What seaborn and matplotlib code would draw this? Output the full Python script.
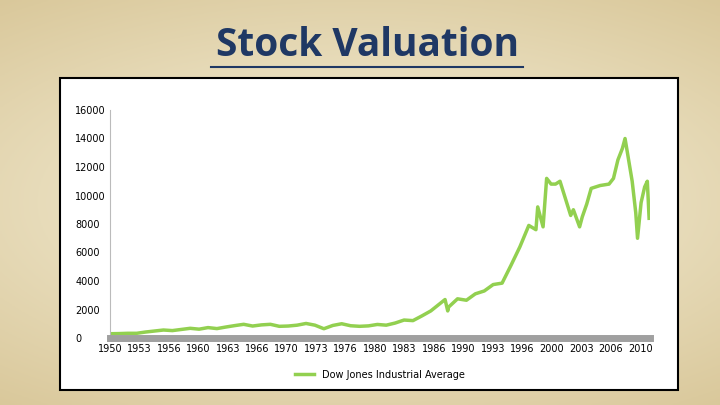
import numpy as np
import pandas as pd
import seaborn as sns
import matplotlib.pyplot as plt
from matplotlib.lines import Line2D
from matplotlib.patches import Rectangle

# Dow Jones values (approximate)
years = [1950, 1951, 1952, 1953, 1954, 1955, 1956, 1957, 1958, 1959, 1960, 1961, 1962, 1963,
         1964, 1965, 1966, 1967, 1968, 1969, 1970, 1971, 1972, 1973, 1974, 1975, 1976, 1977,
         1978, 1979, 1980, 1981, 1982, 1983, 1984, 1985, 1986, 1987.6, 1987.9, 1988, 1989,
         1990, 1991, 1992, 1993, 1994, 1995, 1996, 1997, 1997.8, 1998, 1998.6, 1999, 1999.5,
         2000, 2000.5, 2001, 2001.7, 2002, 2002.7, 2003, 2003.5, 2004, 2005, 2006, 2006.5,
         2007, 2007.5, 2007.8, 2008.2, 2008.6, 2009, 2009.2, 2009.6, 2010, 2010.3, 2010.5]
dow = [300, 310, 330, 330, 420, 490, 560, 520, 600, 680, 620, 730, 660, 770,
       870, 960, 840, 920, 960, 820, 840, 900, 1020, 900, 650, 880, 1000, 860,
       820, 850, 950, 900, 1050, 1260, 1220, 1550, 1900, 2700, 1900, 2170, 2750,
       2650, 3100, 3300, 3750, 3850, 5100, 6400, 7900, 7600, 9200, 7800, 11200, 10800,
       10800, 11000, 10000, 8600, 9000, 7800, 8500, 9400, 10500, 10700, 10800, 11200,
       12500, 13300, 14000, 12500, 11000, 8800, 7000, 9500, 10600, 11000, 8400]
tick_labels = ['1950', '1953', '1956', '1960', '1963', '1966', '1970', '1973', '1976', '1980',
               '1983', '1986', '1990', '1993', '1996', '2000', '2003', '2006', '2010']

df = pd.DataFrame({'year': years, 'Dow Jones Industrial Average': dow})

fig = plt.figure(figsize=(7.2, 4.05), dpi=100)

# slide background gradient
bg = fig.add_axes([0, 0, 1, 1])
xx, yy = np.meshgrid(np.linspace(-1, 1, 300), np.linspace(-1, 1, 200))
r = np.clip(np.sqrt(xx**2 * 0.6 + yy**2), 0, 1.3)
c0 = np.array([0.97, 0.95, 0.87])
c1 = np.array([0.85, 0.78, 0.60])
img = c0 + (c1 - c0) * (r[..., None] / 1.3)
bg.imshow(img, aspect='auto', extent=[0, 1, 0, 1])
bg.set_xlim(0, 1)
bg.set_ylim(0, 1)
bg.axis('off')

# white chart box
bg.add_patch(Rectangle((60/720, 1-390/405), 618/720, 312/405,
                       facecolor='white', edgecolor='black', lw=1.5))

# title
bg.text(367/720, 1-45/405, 'Stock Valuation', ha='center', va='center',
        fontsize=28, fontweight='bold', color='#1f3864', family='Open Sans')
bg.add_line(Line2D([211/720, 523/720], [1-67/405, 1-67/405], color='#1f3864', lw=1.5))

ax = fig.add_axes([110/720, 1-338/405, 540/720, 228/405])
ax.set_facecolor('none')
sns.lineplot(data=df, x='year', y='Dow Jones Industrial Average', ax=ax,
             color='#92d050', lw=2.5, label='Dow Jones Industrial Average')
ax.set_ylim(0, 16000)
ax.set_xlim(1950, 2010.6)
ax.set_yticks(range(0, 16001, 2000))
ax.set_xticks(np.linspace(1950, 2009.5, 19))
ax.set_xticklabels(tick_labels)
ax.tick_params(labelsize=7, length=0, pad=4)
ax.set_xlabel('')
ax.set_ylabel('')
for s in ['top', 'right']:
    ax.spines[s].set_visible(False)
ax.spines['left'].set_color('#bbbbbb')
ax.spines['bottom'].set_color('#a0a0a0')
ax.spines['bottom'].set_linewidth(5)
for lab in ax.get_yticklabels():
    lab.set_ha('left')
ax.tick_params(axis='y', pad=25)
ax.legend(loc='upper center', bbox_to_anchor=(0.5, -0.1), frameon=False, fontsize=7,
          handlelength=2)

fig.savefig('out.png', dpi=100)
